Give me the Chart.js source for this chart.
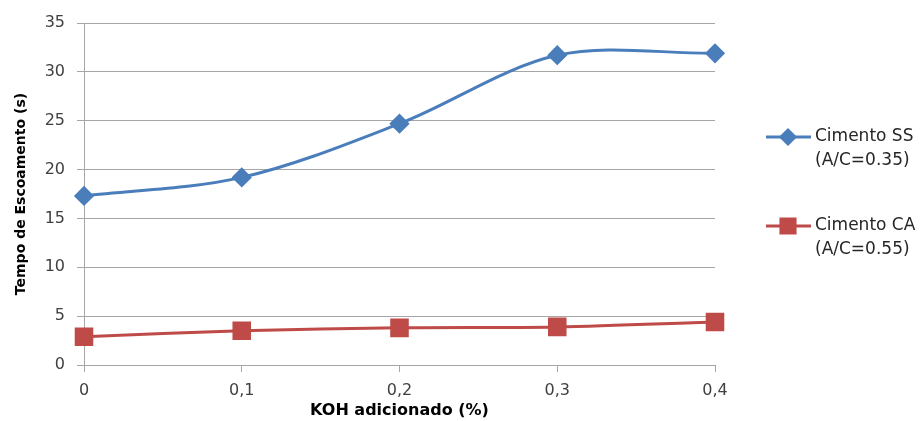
<!DOCTYPE html>
<html>
<head>
<meta charset="utf-8">
<script src="https://cdn.jsdelivr.net/npm/chart.js@4"></script>
<style>
  html, body { margin: 0; padding: 0; background: #ffffff; }
  #wrap { width: 924px; height: 421px; }
</style>
</head>
<body>
<div id="wrap"><canvas id="c" width="924" height="421"></canvas></div>
<script>
// KOH added (%) on the x axis
const kohLabels = ['0', '0,1', '0,2', '0,3', '0,4'];
// Flow time (s) for each cement
const cimentoSS = [17.3, 19.2, 24.7, 31.7, 31.9];
const cimentoCA = [2.9, 3.5, 3.8, 3.9, 4.4];
// Legend text, two lines per series
const nameSS = ['Cimento SS', '(A/C=0.35)'];
const nameCA = ['Cimento CA', '(A/C=0.55)'];
const yMin = 0, yMax = 35, yStep = 5;

const FONT = "'DejaVu Sans', sans-serif";
const GRID = '#a6a6a6';
const BLUE = '#4a7ebb';
const RED = '#be4b48';

// Two-line legend drawn on the right side of the canvas
const sideLegend = {
  id: 'sideLegend',
  afterDraw(chart) {
    const ctx = chart.ctx;
    const rows = [{ y: 137 }, { y: 226 }];
    chart.data.datasets.forEach((ds, i) => {
      const y = rows[i].y;
      ctx.save();
      ctx.strokeStyle = ds.borderColor;
      ctx.lineWidth = ds.borderWidth;
      ctx.beginPath();
      ctx.moveTo(766, y);
      ctx.lineTo(811, y);
      ctx.stroke();
      ctx.fillStyle = ds.pointBackgroundColor;
      ctx.strokeStyle = ds.pointBorderColor;
      Chart.helpers.drawPoint(ctx, {
        pointStyle: ds.pointStyle,
        radius: ds.legendRadius,
        rotation: 0,
        borderWidth: 1
      }, 788, y);
      ctx.fillStyle = '#262626';
      ctx.font = '17px ' + FONT;
      ctx.textBaseline = 'middle';
      ctx.textAlign = 'left';
      ds.label.forEach((line, k) => ctx.fillText(line, 815, y + k * 24));
      ctx.restore();
    });
  }
};

new Chart(document.getElementById('c'), {
  type: 'line',
  data: {
    labels: kohLabels,
    datasets: [
      {
        label: nameSS,
        data: cimentoSS,
        borderColor: BLUE,
        backgroundColor: BLUE,
        pointBackgroundColor: BLUE,
        pointBorderColor: BLUE,
        borderWidth: 3,
        pointStyle: 'rectRot',
        pointRadius: 8,
        pointHoverRadius: 8,
        legendRadius: 7,
        tension: 0.33
      },
      {
        label: nameCA,
        data: cimentoCA,
        borderColor: RED,
        backgroundColor: RED,
        pointBackgroundColor: RED,
        pointBorderColor: RED,
        borderWidth: 3,
        pointStyle: 'rect',
        pointRadius: 11,
        pointHoverRadius: 11,
        legendRadius: 10,
        tension: 0.33
      }
    ]
  },
  options: {
    responsive: false,
    animation: false,
    devicePixelRatio: 1,
    layout: { padding: { left: 0, top: 23, right: 209, bottom: 0 } },
    plugins: {
      legend: { display: false },
      tooltip: { enabled: false }
    },
    scales: {
      x: {
        type: 'category',
        offset: false,
        grid: {
          drawOnChartArea: false,
          drawTicks: true,
          tickLength: 7,
          color: GRID
        },
        border: { display: true, color: GRID, width: 1 },
        ticks: {
          color: '#404040',
          font: { family: FONT, size: 16 },
          padding: 9,
          maxRotation: 0
        },
        title: {
          display: true,
          text: 'KOH adicionado (%)',
          color: '#000000',
          font: { family: FONT, size: 16, weight: 'bold' },
          padding: { top: 0, bottom: 1 }
        },
        afterFit(scale) { scale.height = 56; }
      },
      y: {
        min: yMin,
        max: yMax,
        grid: {
          drawOnChartArea: true,
          drawTicks: true,
          tickLength: 7,
          color: GRID
        },
        border: { display: true, color: GRID, width: 1 },
        ticks: {
          stepSize: yStep,
          color: '#404040',
          font: { family: FONT, size: 16 },
          padding: 12
        },
        title: {
          display: true,
          text: 'Tempo de Escoamento (s)',
          color: '#000000',
          font: { family: FONT, size: 14, weight: 'bold' },
          padding: { top: 13, bottom: 0 }
        },
        afterFit(scale) { scale.width = 84; }
      }
    }
  },
  plugins: [sideLegend]
});
</script>
</body>
</html>
